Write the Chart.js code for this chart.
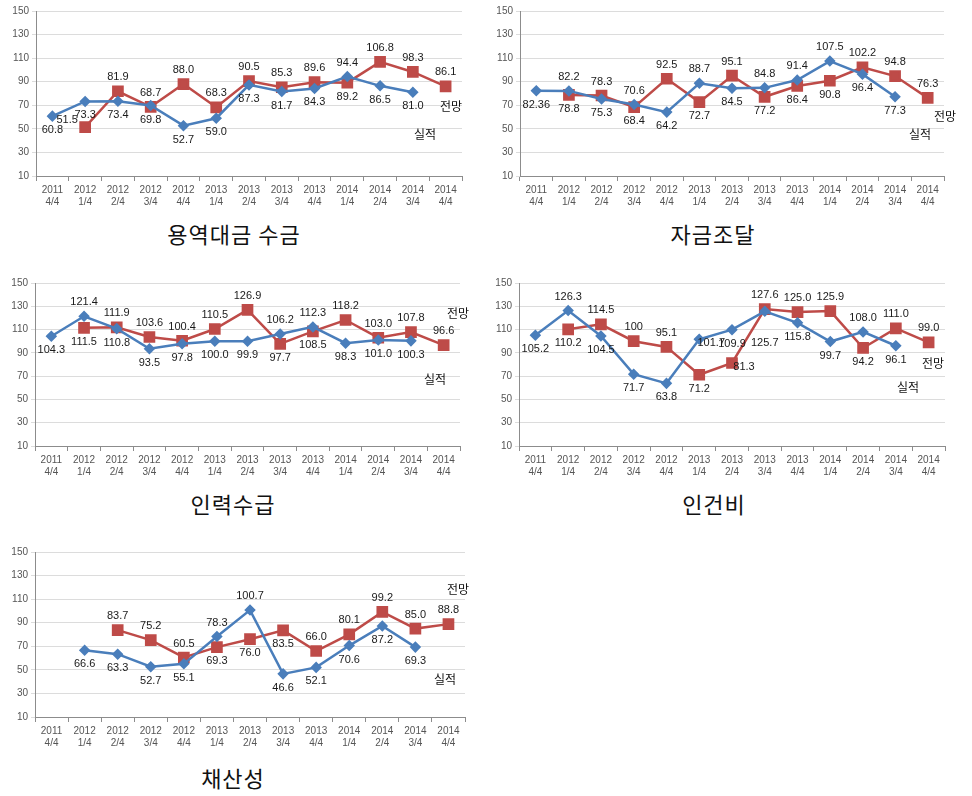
<!DOCTYPE html>
<html>
<head>
<meta charset="utf-8">
<script src="https://cdn.jsdelivr.net/npm/chart.js@4.4.0/dist/chart.umd.min.js"></script>
<style>
  body { margin: 0; background: #fff; width: 972px; height: 796px; position: relative; overflow: hidden; }
  canvas { position: absolute; }
  .title { position: absolute; font-family: "Noto Sans CJK KR", sans-serif; font-size: 22px; letter-spacing: 1px; color: #111; transform: translate(-50%, -50%); white-space: nowrap; }
  .note { position: absolute; font-family: "Noto Sans CJK KR", sans-serif; font-size: 12px; color: #111; transform: translate(-50%, -50%); white-space: nowrap; }
</style>
</head>
<body>
<canvas id="c1"></canvas>
<canvas id="c2"></canvas>
<canvas id="c3"></canvas>
<canvas id="c4"></canvas>
<canvas id="c5"></canvas>

<div class="title" style="left:234px;top:233px">용역대금 수금</div>
<div class="title" style="left:713px;top:233px">자금조달</div>
<div class="title" style="left:233px;top:503px">인력수급</div>
<div class="title" style="left:714px;top:503px">인건비</div>
<div class="title" style="left:233px;top:777px">채산성</div>

<div class="note" style="left:451px;top:105px">전망</div>
<div class="note" style="left:425px;top:133px">실적</div>
<div class="note" style="left:945px;top:115px">전망</div>
<div class="note" style="left:920px;top:133px">실적</div>
<div class="note" style="left:458px;top:312px">전망</div>
<div class="note" style="left:435px;top:378px">실적</div>
<div class="note" style="left:933px;top:362px">전망</div>
<div class="note" style="left:908px;top:386px">실적</div>
<div class="note" style="left:458px;top:588px">전망</div>
<div class="note" style="left:445px;top:678px">실적</div>

<script>
// quarters on the x axis
const quarters = [
    ['2011', '4/4'], ['2012', '1/4'], ['2012', '2/4'], ['2012', '3/4'], ['2012', '4/4'],
    ['2013', '1/4'], ['2013', '2/4'], ['2013', '3/4'], ['2013', '4/4'],
    ['2014', '1/4'], ['2014', '2/4'], ['2014', '3/4'], ['2014', '4/4']
];
const yTicks = [10, 30, 50, 70, 90, 110, 130, 150];

// 실적 (actual, blue) and 전망 (forecast, red), as printed on the chart
const serviceActual   = ['60.8', '73.3', '73.4', '69.8', '52.7', '59.0', '87.3', '81.7', '84.3', '94.4', '86.5', '81.0', null];
const serviceForecast = [null, '51.5', '81.9', '68.7', '88.0', '68.3', '90.5', '85.3', '89.6', '89.2', '106.8', '98.3', '86.1'];

const fundActual   = ['82.36', '82.2', '75.3', '70.6', '64.2', '88.7', '84.5', '84.8', '91.4', '107.5', '96.4', '77.3', null];
const fundForecast = [null, '78.8', '78.3', '68.4', '92.5', '72.7', '95.1', '77.2', '86.4', '90.8', '102.2', '94.8', '76.3'];

const staffActual   = ['104.3', '121.4', '110.8', '93.5', '97.8', '100.0', '99.9', '106.2', '112.3', '98.3', '101.0', '100.3', null];
const staffForecast = [null, '111.5', '111.9', '103.6', '100.4', '110.5', '126.9', '97.7', '108.5', '118.2', '103.0', '107.8', '96.6'];

const wageActual   = ['105.2', '126.3', '104.5', '71.7', '63.8', '101.7', '109.9', '125.7', '115.8', '99.7', '108.0', '96.1', null];
const wageForecast = [null, '110.2', '114.5', '100', '95.1', '71.2', '81.3', '127.6', '125.0', '125.9', '94.2', '111.0', '99.0'];

const profitActual   = [null, '66.6', '63.3', '52.7', '55.1', '78.3', '100.7', '46.6', '52.1', '70.6', '87.2', '69.3', null];
const profitForecast = [null, null, '83.7', '75.2', '60.5', '69.3', '76.0', '83.5', '66.0', '80.1', '99.2', '85.0', '88.8'];

// label placement: u above, d below, D far below, l left, r right-below
const place = {
    c1: ['ddddddddduddd', '-luuuuuuuduuu'],
    c2: ['dudududuuudd-', '-dudududdduuu'],
    c3: ['duddddduuddd-', '-duuuuudduuuu'],
    c4: ['dudddrdDddud-', '-duuudruuuduu'],
    c5: ['-dddduuddddd-', '--uuuddduuuuu']
};

const BLUE = '#4a7ebb';
const RED = '#be4b48';

const offsets = {
    u: [0, -14], d: [0, 14], D: [0, 32], l: [-18, -7], r: [12, 4]
};

const labelPlugin = {
    id: 'pointLabels',
    afterDatasetsDraw(chart) {
        const ctx = chart.ctx;
        const codes = place[chart.canvas.id];
        ctx.save();
        ctx.font = '11px "Liberation Sans", Arial, sans-serif';
        ctx.fillStyle = '#1a1a1a';
        ctx.textAlign = 'center';
        ctx.textBaseline = 'middle';
        chart.data.datasets.forEach((ds, di) => {
            const meta = chart.getDatasetMeta(di);
            meta.data.forEach((pt, i) => {
                const v = ds.data[i];
                if (v === null) return;
                const off = offsets[codes[di][i]] || offsets.u;
                ctx.fillText(v, pt.x + off[0], pt.y + off[1]);
            });
        });
        ctx.restore();
    }
};

function makeChart(id, box, actual, forecast) {
    const el = document.getElementById(id);
    el.width = box.w;
    el.height = box.h;
    el.style.left = box.x + 'px';
    el.style.top = box.y + 'px';
    el.style.width = box.w + 'px';
    el.style.height = box.h + 'px';

    new Chart(el, {
        type: 'line',
        data: {
            labels: quarters,
            datasets: [{
                data: actual,
                borderColor: BLUE,
                backgroundColor: BLUE,
                borderWidth: 2.5,
                pointStyle: 'rectRot',
                pointRadius: 4,
                tension: 0
            }, {
                data: forecast,
                borderColor: RED,
                backgroundColor: RED,
                borderWidth: 2.5,
                pointStyle: 'rect',
                pointRadius: 6.5,
                tension: 0
            }]
        },
        options: {
            responsive: false,
            animation: false,
            layout: { padding: { top: box.top, right: box.right, left: 0, bottom: 0 } },
            plugins: { legend: { display: false }, tooltip: { enabled: false } },
            scales: {
                x: {
                    offset: true,
                    afterFit: (s) => { s.height = 39; },
                    grid: { offset: true, drawOnChartArea: false, drawTicks: true, tickLength: 5, color: '#8c8c8c' },
                    border: { color: '#8c8c8c' },
                    ticks: { color: '#555', font: { size: 10, family: '"Liberation Sans", Arial, sans-serif' }, padding: 3, maxRotation: 0, autoSkip: false }
                },
                y: {
                    min: 10,
                    max: 150,
                    afterFit: (s) => { s.width = box.yw; },
                    afterBuildTicks: (s) => { s.ticks = yTicks.map(v => ({ value: v })); },
                    grid: { color: '#dcdcdc', tickLength: 4, drawTicks: true },
                    border: { color: '#8c8c8c' },
                    ticks: { color: '#555', font: { size: 10, family: '"Liberation Sans", Arial, sans-serif' }, padding: 3 }
                }
            }
        },
        plugins: [labelPlugin]
    });
}

makeChart('c1', { x: 0, y: 0, w: 480, h: 215, top: 11, right: 18, yw: 36 }, serviceActual, serviceForecast);
makeChart('c2', { x: 480, y: 0, w: 492, h: 215, top: 11, right: 28, yw: 40 }, fundActual, fundForecast);
makeChart('c3', { x: 0, y: 260, w: 480, h: 225, top: 23, right: 20, yw: 35 }, staffActual, staffForecast);
makeChart('c4', { x: 480, y: 260, w: 492, h: 225, top: 23, right: 27, yw: 39 }, wageActual, wageForecast);
makeChart('c5', { x: 0, y: 530, w: 480, h: 226, top: 22, right: 15, yw: 35 }, profitActual, profitForecast);
</script>
</body>
</html>
